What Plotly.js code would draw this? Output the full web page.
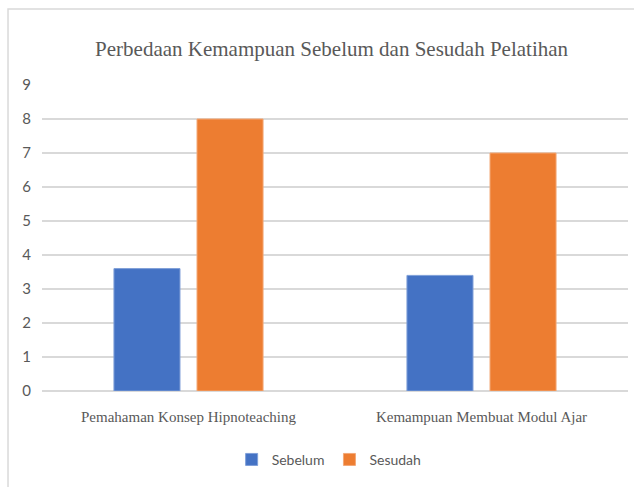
<!DOCTYPE html>
<html>
<head>
<meta charset="utf-8">
<script src="https://cdn.plot.ly/plotly-3.0.1.min.js"></script>
<style>html,body{margin:0;padding:0;background:#fff;}#chart{width:634px;height:487px;}</style>
</head>
<body>
<div id="chart"></div>
<script>
const categories = ["Pemahaman Konsep Hipnoteaching", "Kemampuan Membuat Modul Ajar"];
const sebelum = [3.6, 3.4];
const sesudah = [8, 7];
const yTicks = [0, 1, 2, 3, 4, 5, 6, 7, 8, 9];

const traces = [
  {type: 'bar', name: 'Sebelum', x: categories, y: sebelum,
   marker: {color: '#4472C4', line: {color: '#7f9fd8', width: 1}}},
  {type: 'bar', name: 'Sesudah', x: categories, y: sesudah,
   marker: {color: '#ED7D31', line: {color: '#f3a877', width: 1}}}
];

const layout = {
  width: 634, height: 487,
  margin: {l: 42, r: 6, t: 85, b: 96},
  paper_bgcolor: '#ffffff', plot_bgcolor: '#ffffff',
  title: {text: 'Perbedaan Kemampuan Sebelum dan Sesudah Pelatihan',
    font: {family: 'Liberation Serif, serif', size: 21, color: '#595959'},
    xref: 'container', x: 0.523, xanchor: 'center', yref: 'container', y: 0.9, yanchor: 'middle'},
  bargap: 0.433, bargroupgap: 0.205,
  xaxis: {tickfont: {family: 'Liberation Serif, serif', size: 15, color: '#595959'},
    showgrid: false, showline: false, ticks: '', fixedrange: true, ticklabelstandoff: 15},
  yaxis: {range: [0, 9], tickvals: yTicks, ticktext: yTicks.map(String),
    tickfont: {family: 'Lato, sans-serif', size: 15, color: '#595959'},
    gridcolor: '#d9d9d9', gridwidth: 1.5, zeroline: true, zerolinecolor: '#d9d9d9', zerolinewidth: 1.5,
    showline: false, ticks: '', ticklabelstandoff: 10},
  legend: {orientation: 'h', x: 0.49, xanchor: 'center', y: -0.225, yanchor: 'middle',
    font: {family: 'Lato, sans-serif', size: 14, color: '#595959'}, itemwidth: 30, traceorder: 'normal'},
  shapes: [{type: 'rect', xref: 'paper', yref: 'paper', x0: -0.058, x1: 1.2, y0: -0.6, y1: 1.248,
    line: {color: '#d9d9d9', width: 1.5}, fillcolor: 'rgba(0,0,0,0)', layer: 'below'}],
  showlegend: true
};

Plotly.newPlot('chart', traces, layout, {displayModeBar: false, staticPlot: true});
</script>
</body>
</html>
